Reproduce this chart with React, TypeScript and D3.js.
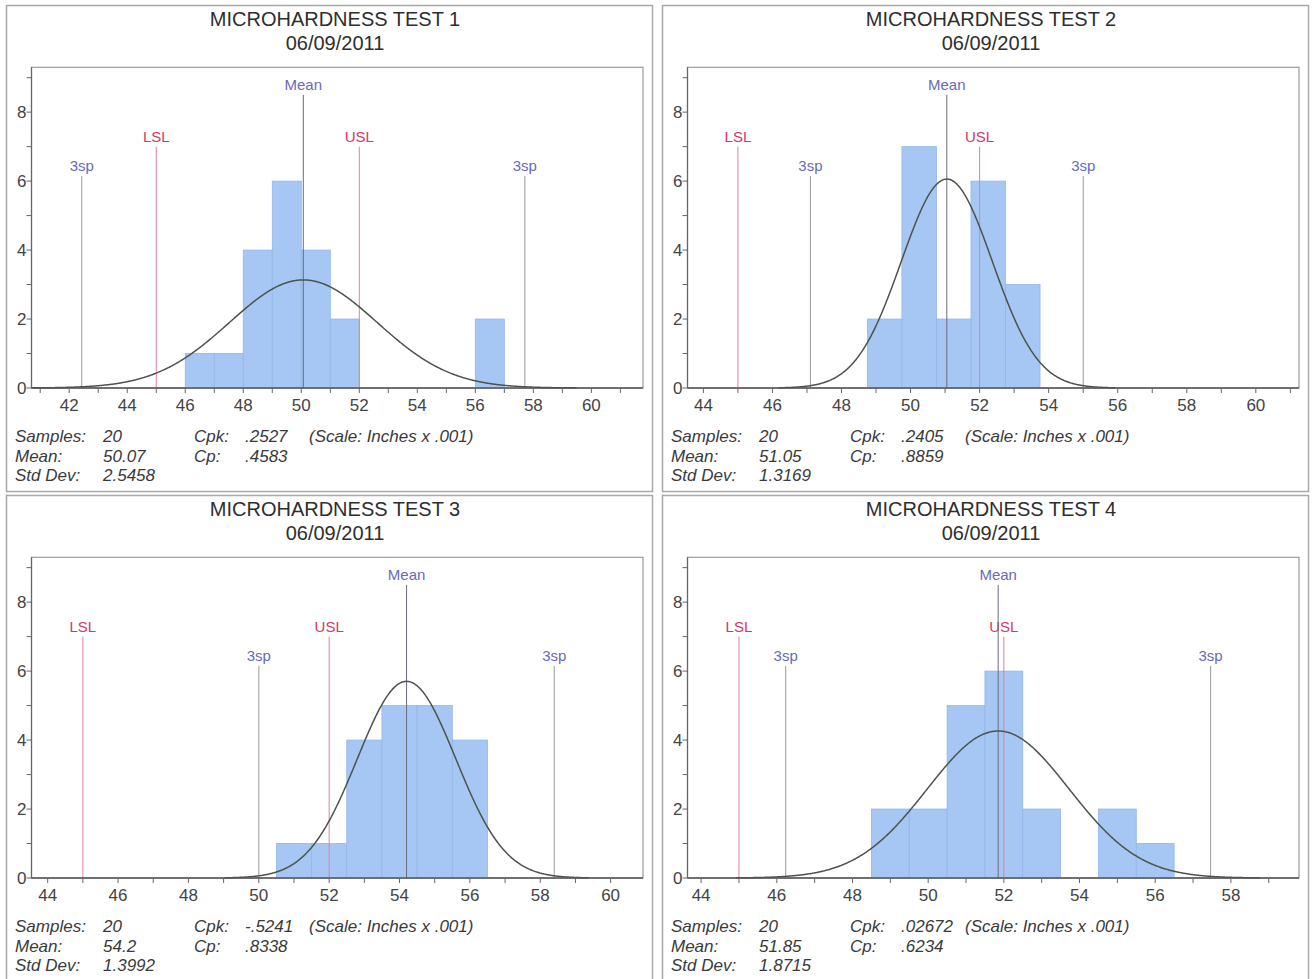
import React from "react";
import * as d3 from "d3";

// chart data
const testTitles = ["MICROHARDNESS TEST 1", "MICROHARDNESS TEST 2", "MICROHARDNESS TEST 3", "MICROHARDNESS TEST 4"];
const testDate = "06/09/2011";
const binStarts = [46, 48.75, 50.5, 48.5];
const binCounts = [
  [1, 1, 4, 6, 4, 2, 0, 0, 0, 0, 2],
  [2, 7, 2, 6, 3],
  [1, 1, 4, 5, 5, 4],
  [2, 2, 5, 6, 2, 0, 2, 1],
];
const means = [50.07, 51.05, 54.2, 51.85];
const stdDevs = [2.5458, 1.3169, 1.3992, 1.8715];
const sampleLabels = ["20", "20", "20", "20"];
const meanLabels = ["50.07", "51.05", "54.2", "51.85"];
const sdLabels = ["2.5458", "1.3169", "1.3992", "1.8715"];
const cpkLabels = [".2527", ".2405", "-.5241", ".02672"];
const cpLabels = [".4583", ".8859", ".8338", ".6234"];
const specLimits = [
  { name: "LSL", value: 45 },
  { name: "USL", value: 52 },
];
const xDomains = [
  [40.7, 61.78],
  [43.54, 61.25],
  [43.54, 60.92],
  [43.64, 59.8],
];
const yMax = 9.3;

const W = 1316;
const H = 979;
const font = "'Liberation Sans', Arial, sans-serif";
const panelOrigins = [
  [0, 0],
  [656, 0],
  [0, 490],
  [656, 490],
];
const plot = { left: 31.5, right: 643, top: 67.3, bottom: 388 };

const Panel = ({ i }: { i: number }) => {
  const [ox, oy] = panelOrigins[i];
  const x = d3.scaleLinear().domain(xDomains[i]).range([plot.left, plot.right]);
  const y = d3.scaleLinear().domain([0, yMax]).range([plot.bottom, plot.top]);
  const mean = means[i];
  const sd = stdDevs[i];
  const [d0, d1] = xDomains[i];

  const bins = binCounts[i].map((c, k) => ({ x0: binStarts[i] + k, x1: binStarts[i] + k + 1, c }));

  // fitted normal curve, scaled to counts (bin width 1)
  const n = d3.sum(binCounts[i]);
  const lo = Math.max(d0, mean - 3.7 * sd);
  const hi = Math.min(d1, mean + 3.7 * sd);
  const pts = d3.range(lo, hi, 0.02).concat([hi]).map((v) => {
    const z = (v - mean) / sd;
    return [v, (n / (sd * Math.sqrt(2 * Math.PI))) * Math.exp(-0.5 * z * z)];
  });
  const line = d3.line<number[]>().x((d) => x(d[0])).y((d) => y(d[1]));

  const refs = [
    { name: "3sp", value: mean - 3 * sd, top: 6.15, color: "#6a6ab8", stroke: "#9a9a9a" },
    { name: "3sp", value: mean + 3 * sd, top: 6.15, color: "#6a6ab8", stroke: "#9a9a9a" },
    ...specLimits.map((s) => ({ name: s.name, value: s.value, top: 7.0, color: "#d2386a", stroke: "#e0809c" })),
    { name: "Mean", value: mean, top: 8.5, color: "#6a6ab8", stroke: "#6b6b7b" },
  ];

  const xTicks = d3.range(Math.ceil(d0), Math.floor(d1) + 1);
  const yTicks = d3.range(0, 10);

  const statRows = [
    ["Samples:", sampleLabels[i], "Cpk:", cpkLabels[i], "(Scale: Inches x .001)"],
    ["Mean:", meanLabels[i], "Cp:", cpLabels[i], ""],
    ["Std Dev:", sdLabels[i], "", "", ""],
  ];
  const statCols = [15, 103, 194, 245, 309];

  return (
    <g transform={`translate(${ox},${oy})`} fontFamily={font}>
      <rect x={6.5} y={5.5} width={646} height={486} fill="#fff" stroke="#a8a8a8" strokeWidth={1.5} />
      <text x={335} y={26} textAnchor="middle" fontSize={20} fill="#2e2e2e">
        {testTitles[i]}
      </text>
      <text x={335} y={49.5} textAnchor="middle" fontSize={20} fill="#2e2e2e">
        {testDate}
      </text>

      <rect
        x={plot.left}
        y={plot.top}
        width={plot.right - plot.left}
        height={plot.bottom - plot.top}
        fill="#fff"
        stroke="#9c9c9c"
        strokeWidth={1.2}
      />

      {/* histogram */}
      {bins
        .filter((b) => b.c > 0)
        .map((b, k) => (
          <rect
            key={k}
            x={x(b.x0)}
            y={y(b.c)}
            width={x(b.x1) - x(b.x0)}
            height={y(0) - y(b.c)}
            fill="#a6c7f4"
            stroke="#93b6ea"
            strokeWidth={0.8}
          />
        ))}

      {/* reference lines */}
      {refs.map((r, k) => (
        <g key={k}>
          <line x1={x(r.value)} x2={x(r.value)} y1={y(0)} y2={y(r.top)} stroke={r.stroke} strokeWidth={1} />
          <text x={x(r.value)} y={y(r.top) - 5} textAnchor="middle" fontSize={15} fill={r.color}>
            {r.name}
          </text>
        </g>
      ))}

      <path d={line(pts) || ""} fill="none" stroke="#4b544b" strokeWidth={1.5} />

      {/* x axis */}
      <line x1={plot.left} x2={plot.right} y1={plot.bottom} y2={plot.bottom} stroke="#555" strokeWidth={1.5} />
      {xTicks.map((t) => (
        <g key={t}>
          <line x1={x(t)} x2={x(t)} y1={plot.bottom} y2={plot.bottom + 5} stroke="#666" />
          {t % 2 === 0 && (
            <text x={x(t)} y={plot.bottom + 23} textAnchor="middle" fontSize={17} fill="#444">
              {t}
            </text>
          )}
        </g>
      ))}

      {/* y axis */}
      <line x1={plot.left} x2={plot.left} y1={plot.top} y2={plot.bottom} stroke="#666" strokeWidth={1.2} />
      {yTicks.map((t) => (
        <g key={t}>
          <line x1={plot.left - 5} x2={plot.left} y1={y(t)} y2={y(t)} stroke="#666" />
          {t % 2 === 0 && (
            <text x={plot.left - 5} y={y(t) + 6} textAnchor="end" fontSize={17} fill="#444">
              {t}
            </text>
          )}
        </g>
      ))}

      {/* statistics */}
      {statRows.map((row, r) => (
        <g key={r}>
          {row.map((s, c) =>
            s ? (
              <text key={c} x={statCols[c]} y={442 + r * 19.5} fontSize={17} fontStyle="italic" fill="#3a3a3a">
                {s}
              </text>
            ) : null
          )}
        </g>
      ))}
    </g>
  );
};

export default function App() {
  return (
    <svg
      width={W}
      height={H}
      viewBox={`0 0 ${W} ${H}`}
      style={{ position: "absolute", left: 0, top: 0, background: "#fff" }}
    >
      <rect width={W} height={H} fill="#fff" />
      {testTitles.map((_, i) => (
        <Panel key={i} i={i} />
      ))}
    </svg>
  );
}
